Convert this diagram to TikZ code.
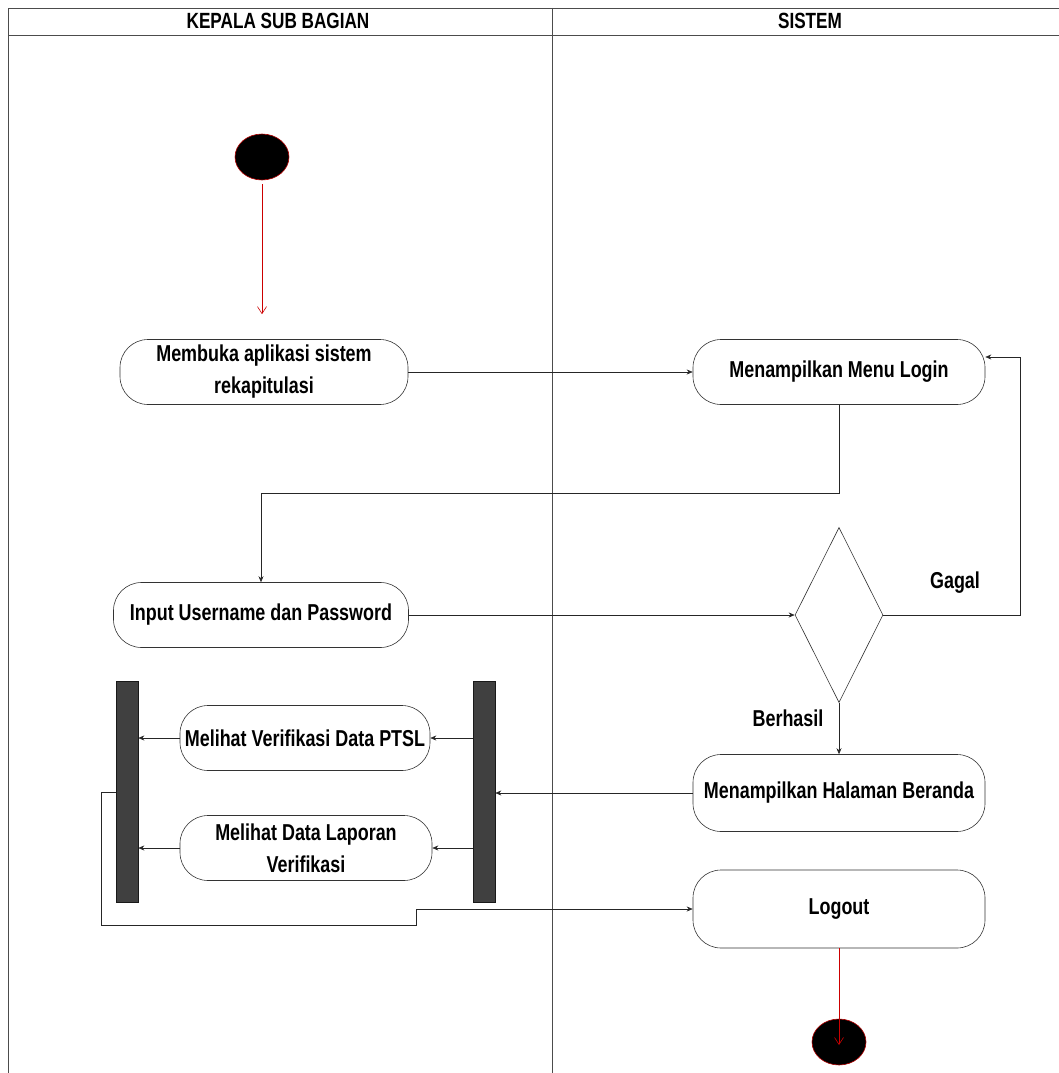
\documentclass[tikz,border=0pt]{standalone}
\usepackage{fontspec}
\setmainfont{Liberation Sans}[FakeStretch=0.78]
\usetikzlibrary{arrows.meta,positioning,shapes.geometric}
\tikzset{
  >={Stealth[length=6pt,width=5pt]},
  every picture/.append style={line width=0.6pt},
  every node/.append style={font=\bfseries\fontsize{23}{32}\selectfont},
}
\tikzset{
  act/.style={draw=black!80, rounded corners=28pt, align=center, minimum height=65pt, inner sep=2pt},
  bar/.style={draw=black!90, fill=black!75, minimum width=22pt, minimum height=221pt, inner sep=0pt},
  dot/.style={ellipse, draw=red!70!black, fill=black, minimum width=54pt, minimum height=46pt, inner sep=0pt},
  decide/.style={diamond, draw=black!80, minimum width=88pt, minimum height=175pt, inner sep=0pt},
  flow/.style={->, draw=black!85},
  redflow/.style={-{Straight Barb[length=7pt,width=9pt]}, draw=red!80!black},
  lane/.style={draw=black!70, line width=0.5pt},
  lbl/.style={inner sep=0pt},
  head/.style={inner sep=0pt, font=\bfseries\fontsize{22}{26}\selectfont}
}
\begin{document}
\begin{tikzpicture}[x=1pt,y=-1pt]
\useasboundingbox (0,0) rectangle (1059,1073);
\draw[lane] (8,8) rectangle (1075,1085);
\draw[lane] (8,35) -- (1075,35);
\draw[lane] (552,8) -- (552,1085);
\node[head] (kasub) at (278,21) {KEPALA SUB BAGIAN};
\node[head] (sistem) at (810,21) {SISTEM};

\node[dot] (start) at (262,157) {};
\node[act, minimum width=288pt] (open) at (264,372) {Membuka aplikasi sistem\\rekapitulasi};
\node[act, minimum width=292pt] (login) at (839,372) {Menampilkan Menu Login};
\node[act, minimum width=295pt] (input) at (261,615) {Input Username dan Password};
\node[decide] (cek) at (839,615) {};
\node[lbl] (gagal) at (955,583) {Gagal};
\node[lbl] (berhasil) at (788,718) {Berhasil};
\node[act, minimum width=292pt, minimum height=77pt] (home) at (839,793) {Menampilkan Halaman Beranda};
\node[bar] (rbar) at (484,792) {};
\node[bar] (lbar) at (127,792) {};
\node[act, minimum width=250pt] (verif) at (305,738) {Melihat Verifikasi Data PTSL};
\node[act, minimum width=252pt] (lapor) at (306,848) {Melihat Data Laporan\\Verifikasi};
\node[act, minimum width=292pt, minimum height=78pt] (logout) at (839,909) {Logout};
\node[dot] (stop) at (839,1042) {};

\draw[redflow, shorten <=4pt, shorten >=25pt] (start.south) -- (start.south |- open.north);
\draw[flow] (open.east) -- (login.west);
\draw[flow] (login.south) -- ++(0,88) -| (input.north);
\draw[flow] (input.east) -- (cek.west);
\draw[flow] (cek.east) -- ++(137,0) |- ([yshift=15pt]login.east);
\draw[flow] (cek.south) -- (home.north);
\draw[flow] (home.west) -- (home.west -| rbar.east);
\draw[flow] (verif.east -| rbar.west) -- (verif.east);
\draw[flow] (lapor.east -| rbar.west) -- (lapor.east);
\draw[flow] (verif.west) -- (verif.west -| lbar.east);
\draw[flow] (lapor.west) -- (lapor.west -| lbar.east);
\draw[flow] (lbar.west) -- ++(-14,0) -- ++(0,133) -- ++(315,0) |- (logout.west);
\draw[redflow] (logout.south) -- ([yshift=-3pt]stop.center);
\end{tikzpicture}
\end{document}
